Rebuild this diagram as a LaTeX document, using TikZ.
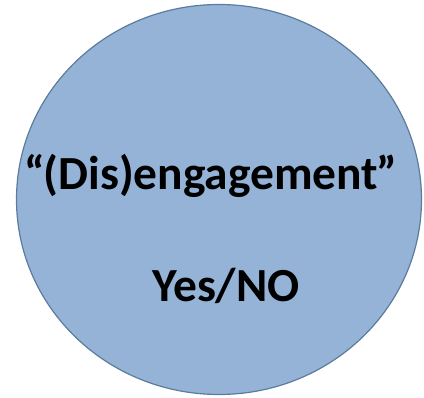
\documentclass[tikz,border=0pt]{standalone}
\usepackage{fontspec}
\setmainfont{Carlito}
\usepackage{tikz}
\usetikzlibrary{shapes.geometric}
\definecolor{discfill}{HTML}{95B3D7}
\definecolor{discline}{HTML}{5B7C9C}

\begin{document}
\begin{tikzpicture}[
  x=1pt, y=-1pt,
  disc/.style={ellipse, draw=discline, fill=discfill, line width=1.2pt, minimum width=405pt, minimum height=390pt, inner sep=0pt},
  label/.style={font=\fontsize{47.5}{52}\selectfont\bfseries, text=black, inner sep=0pt, anchor=base}
]
  \useasboundingbox (0,0) rectangle (424,398);

  % the circle
  \node[disc] (circ) at (219,199.5) {};

  % texts
  \node[label] (dis) at (211,190) {“\kern-2pt(Dis)engagement\kern-2pt”};
  \node[label] (yn) at (226,302) {Yes/NO};
\end{tikzpicture}
\end{document}
